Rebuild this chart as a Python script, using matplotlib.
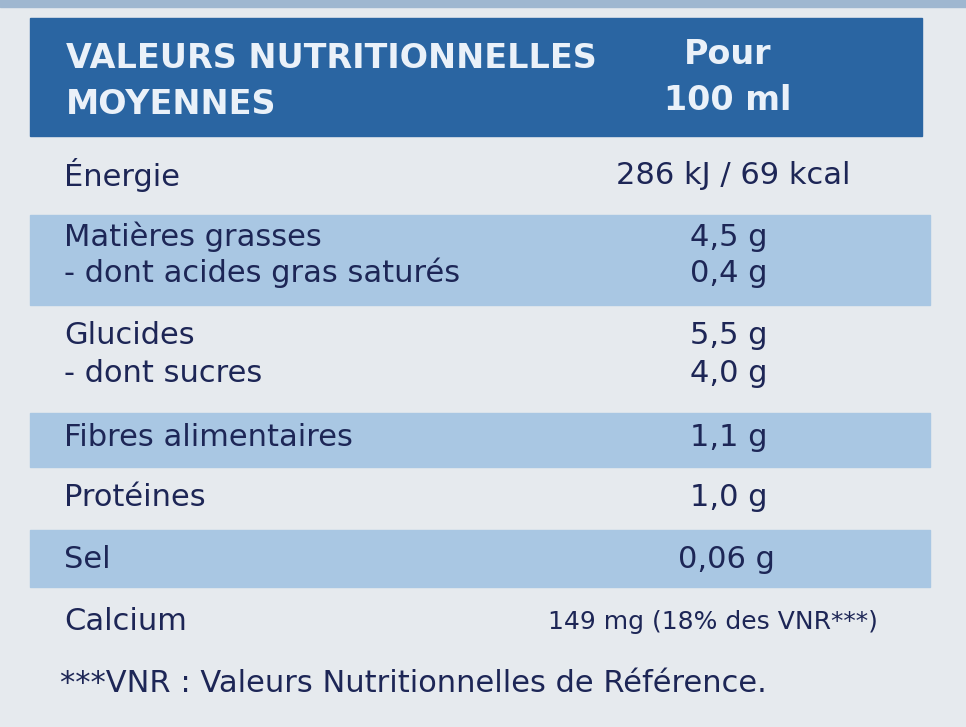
import matplotlib.pyplot as plt
from matplotlib.patches import Rectangle

# label data
header_left = ["VALEURS NUTRITIONNELLES", "MOYENNES"]
header_right = ["Pour", "100 ml"]
nutrients = ["Énergie", "Matières grasses", "- dont acides gras saturés", "Glucides",
             "- dont sucres", "Fibres alimentaires", "Protéines", "Sel", "Calcium"]
values = ["286 kJ / 69 kcal", "4,5 g", "0,4 g", "5,5 g", "4,0 g", "1,1 g", "1,0 g",
          "0,06 g", "149 mg (18% des VNR***)"]
footnote = "***VNR : Valeurs Nutritionnelles de Référence."

row_y = [175, 237, 273, 336, 373, 437, 497, 560, 622]
value_x = [850, 768, 768, 768, 768, 768, 768, 775, 878]
bands = [(215, 305), (413, 467), (530, 587)]

navy = "#1d2656"
font = "DejaVu Sans"

fig = plt.figure(figsize=(9.66, 7.27), dpi=100)
fig.patch.set_facecolor("#e6eaee")
ax = fig.add_axes([0, 0, 1, 1])
ax.set_xlim(0, 966)
ax.set_ylim(727, 0)
ax.axis("off")

ax.add_patch(Rectangle((0, -5), 966, 12, color="#9fb7d0"))
ax.add_patch(Rectangle((30, 18), 892, 118, color="#2a65a2"))
for y0, y1 in bands:
    ax.add_patch(Rectangle((30, y0), 900, y1 - y0, color="#a9c7e3"))

for i, t in enumerate(header_left):
    ax.text(66, 58 + i * 46, t, color="#eaf1f9", fontsize=24, fontweight="bold",
            family=font, va="center")
for i, t in enumerate(header_right):
    ax.text(728, 55 + i * 46, t, color="#eaf1f9", fontsize=24, fontweight="bold",
            family=font, va="center", ha="center")

for name, val, y, vx in zip(nutrients, values, row_y, value_x):
    ax.text(64, y, name, color=navy, fontsize=22, family=font, va="center")
    fs = 18 if name == "Calcium" else 22
    ax.text(vx, y, val, color=navy, fontsize=fs, family=font, va="center", ha="right")

ax.text(60, 684, footnote, color=navy, fontsize=22, family=font, va="center")

plt.savefig("out.png", dpi=100, facecolor=fig.get_facecolor())
